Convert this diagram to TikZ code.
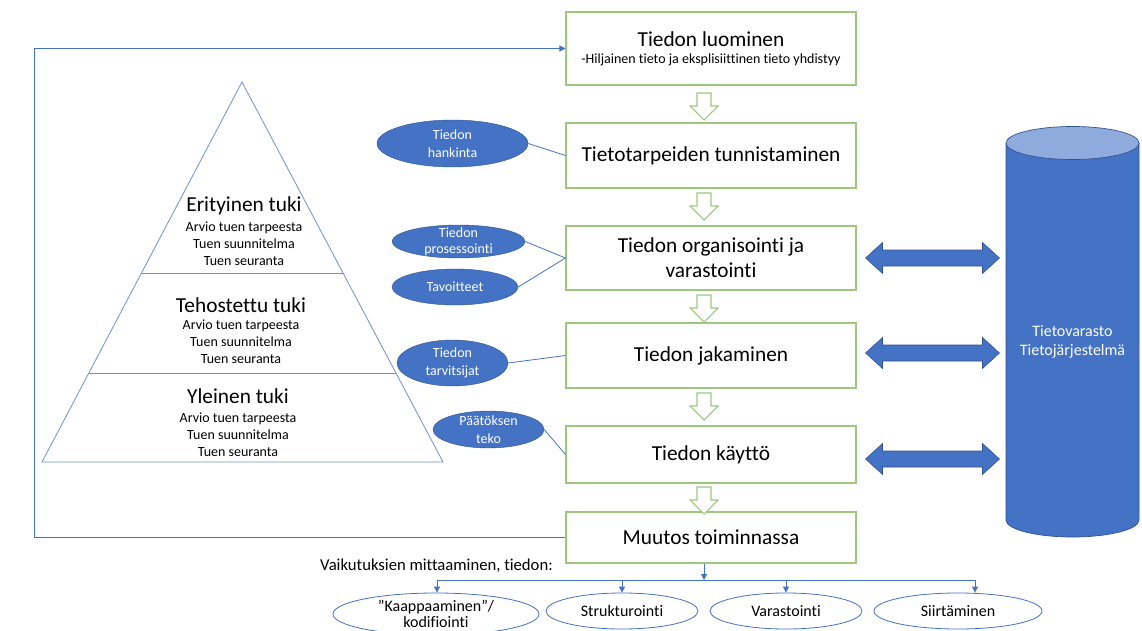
\documentclass[tikz,border=0pt]{standalone}
\usepackage{fontspec}
\setmainfont{Carlito}[Ligatures=NoCommon]
\usetikzlibrary{arrows.meta,calc,positioning,shapes.geometric}

\definecolor{stagegreen}{HTML}{9DC77F}
\definecolor{officeblue}{HTML}{4472C4}
\definecolor{darkblue}{HTML}{2F528F}
\definecolor{lightblue}{HTML}{8FAADC}
\definecolor{pyrline}{HTML}{7090CC}

\tikzset{
  stage/.style={draw=stagegreen, line width=0.8pt, minimum width=217.5pt, align=center, inner sep=0pt, font=\fontsize{16}{19}\selectfont},
  topic/.style={ellipse, fill=officeblue, draw=darkblue, line width=0.3pt, inner sep=0pt},
  topictext/.style={align=center, text=white, inner sep=0pt, font=\fontsize{10.5}{13.5}\selectfont},
  outcome/.style={ellipse, draw=officeblue, line width=0.6pt, fill=white, inner sep=0pt},
  outcometext/.style={align=center, inner sep=0pt, font=\fontsize{12}{12}\selectfont},
  link/.style={officeblue, line width=0.6pt},
  arrowlink/.style={officeblue, line width=0.6pt, -{Triangle[length=4.5pt,width=4.5pt]}},
  tierhead/.style={inner sep=0pt, font=\fontsize{16}{19}\selectfont},
  tier/.style={align=center, inner sep=0pt, font=\fontsize{10.5}{12.75}\selectfont},
  hollowdown/.pic={\draw[stagegreen, line width=0.8pt, fill=white] (-7,0) -- (7,0) -- (7,13) -- (14,13) -- (0,27) -- (-14,13) -- (-7,13) -- cycle;},
  dblarrow/.pic={\draw[darkblue, line width=0.4pt, fill=officeblue] (-67,0) -- (-50,-15.5) -- (-50,-8) -- (50,-8) -- (50,-15.5) -- (67,0) -- (50,15.5) -- (50,8) -- (-50,8) -- (-50,15.5) -- cycle;}
}

\begin{document}
\begin{tikzpicture}[x=0.75pt,y=-0.75pt]
  \useasboundingbox (0,0) rectangle (1142,631);
  \clip (0,0) rectangle (1142,631);

  % process boxes
  \node[stage, minimum height=54.75pt] (b1) at (711,48.5) {Tiedon luominen\\[-6pt]{\fontsize{10.5}{12}\selectfont -Hiljainen tieto ja eksplisiittinen tieto yhdistyy}};
  \node[stage, minimum height=48.75pt] (b2) at (711,155.5) {Tietotarpeiden tunnistaminen};
  \node[stage, minimum height=48pt] (b3) at (711,258) {Tiedon organisointi ja\\varastointi};
  \node[stage, minimum height=48.75pt] (b4) at (711,355.5) {Tiedon jakaminen};
  \node[stage, minimum height=42.75pt] (b5) at (711,454.5) {Tiedon käyttö};
  \node[stage, minimum height=38.25pt] (b6) at (711,537.5) {Muutos toiminnassa};

  \pic at (704,93) {hollowdown};
  \pic at (704,193) {hollowdown};
  \pic at (704,295) {hollowdown};
  \pic at (704,393) {hollowdown};
  \pic at (704,487) {hollowdown};

  % feedback loop
  \coordinate (loopbot) at (34,537.5);
  \coordinate (looptop) at (34,48.5);
  \draw[arrowlink] (b6.west) -- (loopbot) -- (looptop) -- (b1.west);

  % support pyramid
  \coordinate (apex) at (242,82);
  \coordinate (baseL) at (42,462);
  \coordinate (baseR) at (443,462);
  \draw[pyrline, line width=0.6pt] (apex) -- (baseR) -- (baseL) -- cycle;
  \draw[pyrline, line width=0.6pt] ($(apex)!0.503!(baseL)$) -- ($(apex)!0.503!(baseR)$);
  \draw[pyrline, line width=0.6pt] ($(apex)!0.766!(baseL)$) -- ($(apex)!0.766!(baseR)$);

  \node[tierhead] (eri) at (244,206) {Erityinen tuki};
  \node[tier] (erilist) at (244,244) {Arvio tuen tarpeesta\\Tuen suunnitelma\\Tuen seuranta};
  \node[tierhead] (teh) at (241,305) {Tehostettu tuki};
  \node[tier] (tehlist) at (241,342) {Arvio tuen tarpeesta\\Tuen suunnitelma\\Tuen seuranta};
  \node[tierhead] (yle) at (238,396) {Yleinen tuki};
  \node[tier] (ylelist) at (238,435) {Arvio tuen tarpeesta\\Tuen suunnitelma\\Tuen seuranta};

  % side topics
  \node[topic, minimum width=113.25pt, minimum height=35.25pt,
    label={[topictext]center:Tiedon\\hankinta}] (hankinta) at (452.5,143.5) {};
  \node[topic, minimum width=99.75pt, minimum height=24.75pt,
    label={[topictext, font=\fontsize{10.5}{12}\selectfont]center:Tiedon\\prosessointi}] (prosessointi) at (458.5,241.5) {};
  \node[topic, minimum width=94.5pt, minimum height=27pt,
    label={[topictext]center:Tavoitteet}] (tavoitteet) at (455,287) {};
  \node[topic, minimum width=83.25pt, minimum height=34.5pt,
    label={[topictext]center:Tiedon\\tarvitsijat}] (tarvitsijat) at (452.5,363) {};
  \node[topic, minimum width=83.25pt, minimum height=27.75pt,
    label={[topictext]center:Päätöksen\\teko}] (paatos) at (488.5,429.5) {};

  \draw[link] (hankinta.east) -- (b2.west);
  \draw[link] (prosessointi.east) -- (b3.west);
  \draw[link] (tavoitteet.east) -- (b3.west);
  \draw[link] (tarvitsijat.east) -- (b4.west);
  \draw[link] (paatos.east) -- (b5.west);

  % storage
  \draw[darkblue, line width=0.5pt, fill=officeblue] (1006,143) -- (1006,520)
    arc[start angle=180, end angle=0, x radius=66.5, y radius=17] -- (1139,143);
  \draw[darkblue, line width=0.5pt, fill=lightblue] (1072.5,143) ellipse [x radius=66.5, y radius=16.5];
  \node[align=center, text=white, font=\fontsize{12}{14.25}\selectfont] (varasto) at (1072.5,341.5) {Tietovarasto\\Tietojärjestelmä};

  \pic at (932.5,258) {dblarrow};
  \pic at (932.5,353) {dblarrow};
  \pic at (932.5,459) {dblarrow};

  % measuring
  \node[inner sep=0pt, font=\fontsize{12.5}{15}\selectfont] (mittaus) at (436.5,566) {Vaikutuksien mittaaminen, tiedon:};
  \node[outcome, minimum width=154.5pt, minimum height=31.5pt,
    label={[outcometext]center:”Kaappaaminen”/\\kodifiointi}] (kaappaus) at (436,614) {};
  \node[outcome, minimum width=114pt, minimum height=27pt,
    label={[outcometext]center:Strukturointi}] (strukt) at (622,611) {};
  \node[outcome, minimum width=114pt, minimum height=27pt,
    label={[outcometext]center:Varastointi}] (varastointi) at (786,611) {};
  \node[outcome, minimum width=126pt, minimum height=27pt,
    label={[outcometext]center:Siirtäminen}] (siirto) at (958,611) {};

  \coordinate (split) at (704,580);
  \coordinate (barL) at (437,580);
  \coordinate (barR) at (975,580);
  \draw[arrowlink] (b6.south -| split) -- (split);
  \draw[link] (barL) -- (barR);
  \draw[arrowlink] (barL) -- (barL |- kaappaus.north);
  \draw[arrowlink] (strukt.north |- barL) -- (strukt.north);
  \draw[arrowlink] (varastointi.north |- barL) -- (varastointi.north);
  \draw[arrowlink] (barR) -- (barR |- siirto.north);
\end{tikzpicture}
\end{document}
